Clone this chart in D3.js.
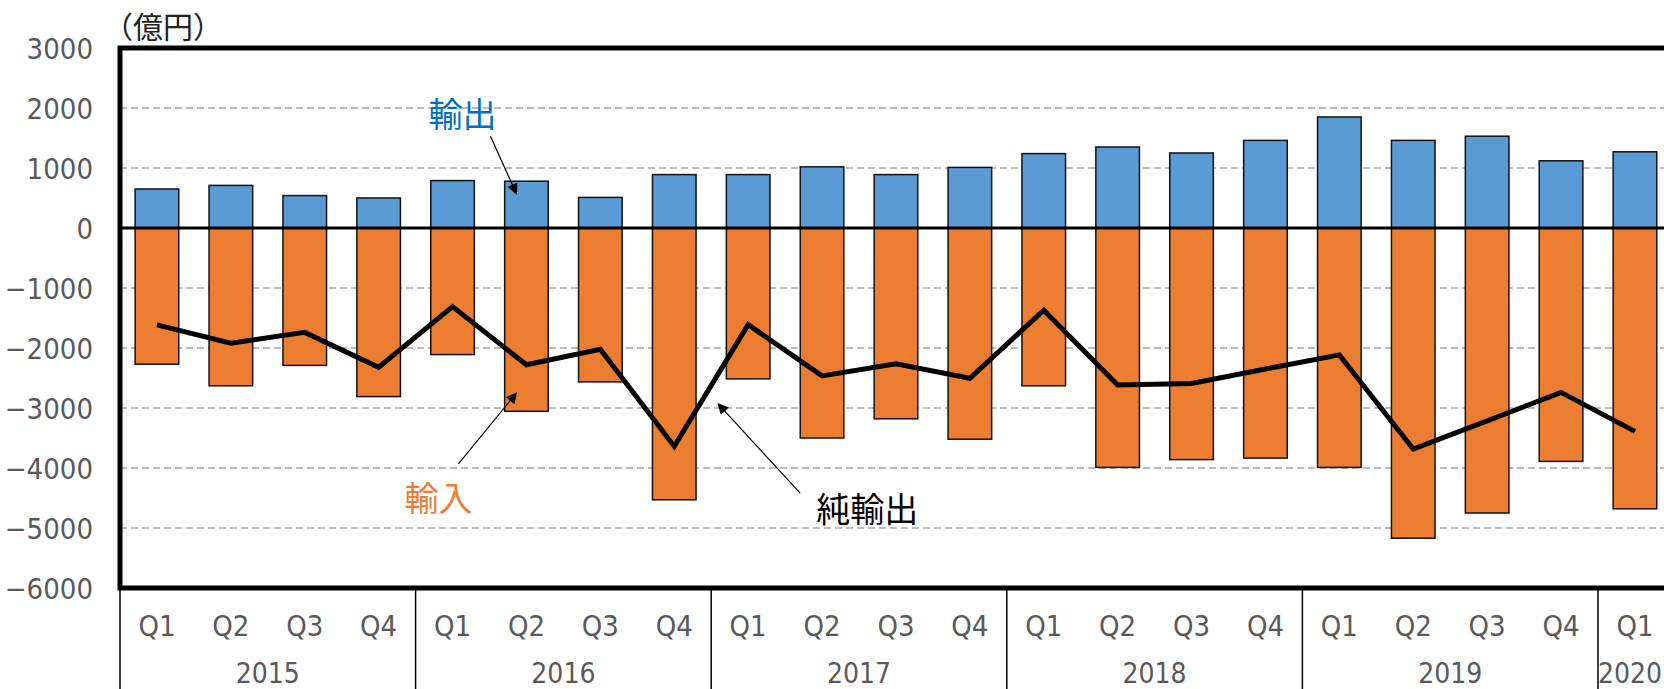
<!DOCTYPE html>
<html>
<head>
<meta charset="utf-8">
<script src="https://cdn.jsdelivr.net/npm/d3@7"></script>
<style>
  body { margin: 0; background: #fff; }
  svg { display: block; }
</style>
</head>
<body>
<div id="app"></div>
<script>
// 四半期・年のラベル
const years = ["2015", "2016", "2017", "2018", "2019", "2020"];
const quartersPerYear = [4, 4, 4, 4, 4, 1];
const quarterNames = ["Q1", "Q2", "Q3", "Q4"];

// 系列（億円）
const exportsData = [650, 710, 540, 500, 790, 780, 510, 890, 890, 1020, 890, 1010, 1240, 1350, 1250, 1460, 1850, 1460, 1530, 1120, 1270];
const importsData = [-2270, -2630, -2290, -2810, -2110, -3055, -2565, -4530, -2515, -3500, -3180, -3520, -2630, -3990, -3860, -3835, -3990, -5170, -4750, -3890, -4680];
const netData = [-1615, -1920, -1740, -2320, -1310, -2280, -2020, -3640, -1610, -2465, -2265, -2505, -1370, -2615, -2590, -2350, -2115, -3685, -3215, -2740, -3390];

const yTicks = [3000, 2000, 1000, 0, -1000, -2000, -3000, -4000, -5000, -6000];

// カテゴリ一覧を作る
const categories = [];
years.forEach((yr, i) => {
    for (let q = 0; q < quartersPerYear[i]; q++) categories.push({ year: yr, q: quarterNames[q] });
});

const W = 1664, H = 689;
const plotLeft = 120, plotTop = 48, plotBottom = 588;
const step = 73.9;

const svg = d3.select("#app").append("svg")
    .attr("width", W)
    .attr("height", H);

const x = d3.scaleBand()
    .domain(d3.range(categories.length))
    .range([plotLeft, plotLeft + step * categories.length])
    .paddingInner(0.41)
    .paddingOuter(0.205);

const y = d3.scaleLinear()
    .domain([-6000, 3000])
    .range([plotBottom, plotTop]);

const xc = i => x(i) + x.bandwidth() / 2;
const plotRight = plotLeft + step * categories.length;

const numFont = "'Liberation Sans Narrow', 'Arial Narrow', 'DejaVu Sans Condensed', sans-serif";
const jpFont = "'Noto Sans CJK JP', 'Noto Sans', sans-serif";

// 補助線（破線）
svg.append("g")
    .selectAll("line")
    .data(yTicks.filter(d => d !== 0 && d !== 3000 && d !== -6000))
    .enter().append("line")
    .attr("x1", plotLeft).attr("x2", plotRight)
    .attr("y1", d => y(d)).attr("y2", d => y(d))
    .attr("stroke", "#a6a6a6")
    .attr("stroke-width", 1.5)
    .attr("stroke-dasharray", "7,4");

// y軸ラベル
const yAxis = svg.append("g")
    .attr("transform", "translate(93,0)")
    .call(d3.axisLeft(y).tickValues(yTicks).tickSize(0).tickPadding(0).tickFormat(d3.format("d")));
yAxis.select(".domain").remove();
yAxis.selectAll("text")
    .attr("font-family", numFont)
    .attr("font-size", 29)
    .attr("fill", "#595959")
    .attr("dy", "0.36em");

// 単位
svg.append("text")
    .attr("x", 103).attr("y", 38)
    .attr("font-family", jpFont)
    .attr("font-size", 30)
    .attr("fill", "#222")
    .text("（億円）");

// 輸出
svg.append("g")
    .selectAll("rect")
    .data(exportsData)
    .enter().append("rect")
    .attr("x", (d, i) => x(i))
    .attr("y", d => y(d))
    .attr("width", x.bandwidth())
    .attr("height", d => y(0) - y(d))
    .attr("fill", "#5b9bd5")
    .attr("stroke", "#111")
    .attr("stroke-width", 1.5);

// 輸入
svg.append("g")
    .selectAll("rect")
    .data(importsData)
    .enter().append("rect")
    .attr("x", (d, i) => x(i))
    .attr("y", y(0))
    .attr("width", x.bandwidth())
    .attr("height", d => y(d) - y(0))
    .attr("fill", "#ed7d31")
    .attr("stroke", "#111")
    .attr("stroke-width", 1.5);

// ゼロ線
svg.append("line")
    .attr("x1", plotLeft).attr("x2", plotRight)
    .attr("y1", y(0)).attr("y2", y(0))
    .attr("stroke", "#000")
    .attr("stroke-width", 3);

// 純輸出
svg.append("path")
    .datum(netData)
    .attr("d", d3.line().x((d, i) => xc(i)).y(d => y(d)))
    .attr("fill", "none")
    .attr("stroke", "#000")
    .attr("stroke-width", 5)
    .attr("stroke-linejoin", "miter");

// 枠
svg.append("rect")
    .attr("x", plotLeft).attr("y", plotTop)
    .attr("width", plotRight - plotLeft).attr("height", plotBottom - plotTop)
    .attr("fill", "none")
    .attr("stroke", "#000")
    .attr("stroke-width", 5);

// x軸：四半期
svg.append("g")
    .selectAll("text")
    .data(categories)
    .enter().append("text")
    .attr("x", (d, i) => xc(i))
    .attr("y", 636)
    .attr("text-anchor", "middle")
    .attr("font-family", numFont)
    .attr("font-size", 29)
    .attr("fill", "#595959")
    .text(d => d.q);

// x軸：年と区切り線
let start = 0;
years.forEach((yr, i) => {
    const n = quartersPerYear[i];
    const x0 = plotLeft + start * step, x1 = plotLeft + (start + n) * step;
    svg.append("line")
        .attr("x1", x0).attr("x2", x0)
        .attr("y1", plotBottom).attr("y2", H)
        .attr("stroke", "#000")
        .attr("stroke-width", 1.5);
    const label = svg.append("text")
        .attr("x", (x0 + x1) / 2)
        .attr("y", 683)
        .attr("text-anchor", "middle")
        .attr("font-family", numFont)
        .attr("font-size", 28)
        .attr("fill", "#595959")
        .text(yr);
    // 右端からはみ出す場合は内側へ寄せる
    const bw = label.node().getComputedTextLength();
    if ((x0 + x1) / 2 + bw / 2 > W - 2) label.attr("x", W - 2 - bw / 2);
    start += n;
});

// 注記の矢印
const defs = svg.append("defs");
defs.append("marker")
    .attr("id", "arrow")
    .attr("viewBox", "0 0 10 10")
    .attr("refX", 9).attr("refY", 5)
    .attr("markerWidth", 14).attr("markerHeight", 11)
    .attr("markerUnits", "userSpaceOnUse")
    .attr("orient", "auto")
    .append("path")
    .attr("d", "M0,0 L10,5 L0,10 Z")
    .attr("fill", "#000");

const notes = [
    { text: "輸出", color: "#0070c0", tx: xc(5) - 64, ty: y(1880), from: [xc(5) - 36, y(1530)], to: [xc(5) - 10, y(570)] },
    { text: "輸入", color: "#ed7d31", tx: xc(5) - 88, ty: y(-4520), from: [xc(5) - 68, y(-3930)], to: [xc(5) - 10, y(-2750)] },
    { text: "純輸出", color: "#000", tx: xc(8) + 119, ty: y(-4700), from: [xc(8) + 52, y(-4420)], to: [xc(8) - 30, y(-2930)] }
];

notes.forEach(n => {
    svg.append("line")
        .attr("x1", n.from[0]).attr("y1", n.from[1])
        .attr("x2", n.to[0]).attr("y2", n.to[1])
        .attr("stroke", "#000")
        .attr("stroke-width", 1.2)
        .attr("marker-end", "url(#arrow)");
    svg.append("text")
        .attr("x", n.tx).attr("y", n.ty)
        .attr("dy", "0.36em")
        .attr("text-anchor", "middle")
        .attr("font-family", jpFont)
        .attr("font-size", 34)
        .attr("fill", n.color)
        .text(n.text);
});
</script>
</body>
</html>
